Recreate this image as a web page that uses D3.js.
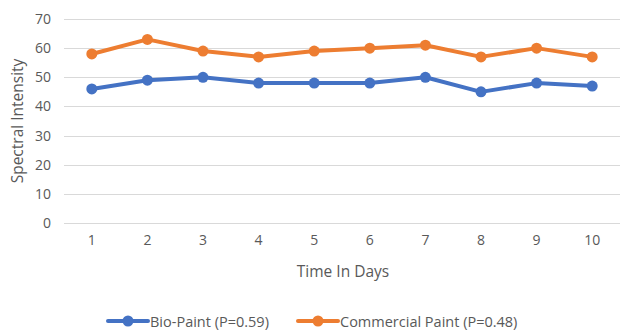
<!DOCTYPE html>
<html>
<head>
<meta charset="utf-8">
<script src="https://cdn.jsdelivr.net/npm/d3@7"></script>
<style>
  html, body { margin: 0; padding: 0; background: #fff; }
  svg { display: block; }
  text { font-family: "Open Sans", "Noto Sans", sans-serif; fill: #595959; }
</style>
</head>
<body>
<svg id="chart" width="620" height="330"></svg>
<script>
const days = ["1", "2", "3", "4", "5", "6", "7", "8", "9", "10"];
const bioPaint = [46, 49, 50, 48, 48, 48, 50, 45, 48, 47];
const commercialPaint = [58, 63, 59, 57, 59, 60, 61, 57, 60, 57];
const yTicks = [0, 10, 20, 30, 40, 50, 60, 70];
const seriesNames = ["Bio-Paint (P=0.59)", "Commercial Paint (P=0.48)"];
const seriesColors = ["#4472C4", "#ED7D31"];

const svg = d3.select("#chart");
const x = d3.scaleBand().domain(days).range([64, 620]);
const y = d3.scaleLinear().domain([0, 70]).range([223, 19]);

// gridlines
svg.append("g").selectAll("line").data(yTicks).join("line")
  .attr("x1", 64).attr("x2", 620)
  .attr("y1", d => Math.round(y(d)) + 0.5).attr("y2", d => Math.round(y(d)) + 0.5)
  .attr("stroke", "#D9D9D9").attr("stroke-width", 1);

// y axis labels
const yAxis = d3.axisLeft(y).tickValues(yTicks).tickSize(0).tickPadding(0);
const gy = svg.append("g").attr("transform", "translate(51,0)").call(yAxis);
gy.select(".domain").remove();
gy.selectAll("text").attr("font-size", 14).style("fill", "#595959")
  .style("font-family", "'Open Sans', sans-serif");

// x axis labels
const xAxis = d3.axisBottom(x).tickSize(0).tickPadding(0);
const gx = svg.append("g").attr("transform", "translate(0,235)").call(xAxis);
gx.select(".domain").remove();
gx.selectAll("text").attr("font-size", 14).style("fill", "#595959")
  .style("font-family", "'Open Sans', sans-serif");

// axis titles
svg.append("text").attr("x", 343).attr("y", 277).attr("text-anchor", "middle")
  .attr("font-size", 15.5).text("Time In Days");
svg.append("text").attr("transform", "translate(23,121) rotate(-90)")
  .attr("text-anchor", "middle").attr("font-size", 15.5).text("Spectral Intensity");

// series
const series = [bioPaint, commercialPaint];
const line = d3.line().x((d, i) => x(days[i]) + x.bandwidth() / 2).y(d => y(d));
series.forEach((vals, si) => {
  const g = svg.append("g");
  g.append("path").datum(vals).attr("d", line)
    .attr("fill", "none").attr("stroke", seriesColors[si])
    .attr("stroke-width", 4).attr("stroke-linejoin", "round").attr("stroke-linecap", "round");
  g.selectAll("circle").data(vals).join("circle")
    .attr("cx", (d, i) => x(days[i]) + x.bandwidth() / 2).attr("cy", d => y(d))
    .attr("r", 5.5).attr("fill", seriesColors[si]);
});

// legend
const legendX = [108, 298];
const ly = 321;
seriesNames.forEach((name, i) => {
  const g = svg.append("g").attr("transform", `translate(${legendX[i]},${ly})`);
  g.append("line").attr("x1", 0).attr("x2", 40).attr("y1", 0).attr("y2", 0)
    .attr("stroke", seriesColors[i]).attr("stroke-width", 4).attr("stroke-linecap", "round");
  g.append("circle").attr("cx", 20).attr("cy", 0).attr("r", 5.5).attr("fill", seriesColors[i]);
  g.append("text").attr("x", 42).attr("y", 5.5).attr("font-size", 14.5).text(name);
});
</script>
</body>
</html>
